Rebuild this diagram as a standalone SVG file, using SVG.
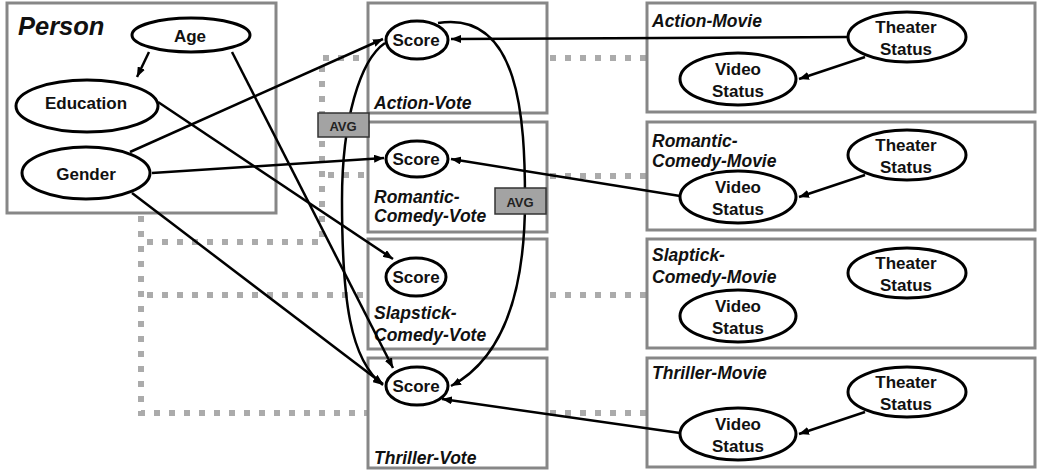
<svg xmlns="http://www.w3.org/2000/svg" width="1038" height="472" viewBox="0 0 1038 472">
<defs>
<marker id="ah" viewBox="0 0 10 8" refX="10" refY="4" markerWidth="10" markerHeight="8" markerUnits="userSpaceOnUse" orient="auto">
<path d="M0,0 L10,4 L0,8 z" fill="#000"/>
</marker>
<style>
.box{fill:#fff;stroke:#878787;stroke-width:3}
.ell{fill:#fff;stroke:#000;stroke-width:3}
.lbl{font-family:"Liberation Sans",Arial,sans-serif;font-weight:bold;font-size:17px;fill:#111;text-anchor:middle}
.title{font-family:"Liberation Sans",Arial,sans-serif;font-weight:bold;font-style:italic;font-size:17.5px;fill:#111}
.dot{fill:none;stroke:#ababab;stroke-width:6;stroke-dasharray:6 9}
.edge{fill:none;stroke:#000;stroke-width:2.5;marker-end:url(#ah)}
.curve{fill:none;stroke:#000;stroke-width:2.5}
.avg{fill:#a3a3a3;stroke:#333;stroke-width:1.5}
.avgt{font-family:"Liberation Sans",Arial,sans-serif;font-weight:bold;font-size:13px;fill:#222;text-anchor:middle}
</style>
</defs>
<rect width="1038" height="472" fill="#fff"/>

<g id="dotted">
<path class="dot" d="M141,216 V413 H368"/>
<path class="dot" d="M147,242 H322 V58 H368"/>
<path class="dot" d="M328,175 H368"/>
<path class="dot" d="M147,295 H368"/>
<path class="dot" d="M550,58 H647"/>
<path class="dot" d="M550,176 H647"/>
<path class="dot" d="M550,295 H647"/>
<path class="dot" d="M550,413 H647"/>
</g>

<g id="person">
<rect class="box" x="7" y="3" width="269" height="210"/>
<text x="18" y="35" class="title" style="font-size:25.5px">Person</text>
</g>
<g id="vote-action"><rect class="box" x="368" y="3" width="179" height="110"/><text x="374" y="109" class="title">Action-Vote</text></g>
<g id="vote-romantic"><rect class="box" x="368" y="122" width="179" height="110"/><text x="374" y="203" class="title">Romantic-</text><text x="374" y="222" class="title">Comedy-Vote</text></g>
<g id="vote-slapstick"><rect class="box" x="368" y="239" width="179" height="110"/><text x="374" y="319" class="title">Slapstick-</text><text x="374" y="341" class="title">Comedy-Vote</text></g>
<g id="vote-thriller"><rect class="box" x="368" y="358" width="179" height="110"/><text x="374" y="464" class="title">Thriller-Vote</text></g>

<g id="movie-action"><rect class="box" x="647" y="3" width="388" height="109"/><text x="652" y="27" class="title">Action-Movie</text></g>
<g id="movie-romantic"><rect class="box" x="647" y="122" width="388" height="108"/><text x="652" y="147" class="title">Romantic-</text><text x="652" y="167" class="title">Comedy-Movie</text></g>
<g id="movie-slapstick"><rect class="box" x="647" y="239" width="388" height="109"/><text x="652" y="261" class="title">Slaptick-</text><text x="652" y="283" class="title">Comedy-Movie</text></g>
<g id="movie-thriller"><rect class="box" x="647" y="358" width="388" height="109"/><text x="652" y="379" class="title">Thriller-Movie</text></g>

<g id="connectors">
<path class="edge" d="M149,52 L137,77"/>
<path class="edge" d="M130,152 L383,39"/>
<path class="edge" d="M152,173 L384,158"/>
<path class="edge" d="M132,193 L383,384"/>
<path class="edge" d="M232,52 L393,368"/>
<path class="edge" d="M158,102 L393,259"/>
<path class="edge" d="M848,37 L451,39"/>
<path class="edge" d="M865,57 L799,79"/>
<path class="edge" d="M680,196 L451,159"/>
<path class="edge" d="M865,175 L799,197"/>
<path class="edge" d="M680,433 L442,399"/>
<path class="edge" d="M865,412 L799,434"/>
<path class="edge" d="M385,43 C360,60 342,120 342,200 C342,300 350,360 383,385"/>
<path class="edge" d="M438,23 C520,10 525,120 525,200 C525,300 500,360 451,386"/>
</g>

<g id="avg1"><rect class="avg" x="318" y="113" width="51" height="24"/><text x="343" y="131" class="avgt">AVG</text></g>
<g id="avg2"><rect class="avg" x="495" y="188" width="51" height="26"/><text x="520" y="207" class="avgt">AVG</text></g>

<g id="age"><ellipse class="ell" cx="191" cy="35" rx="59" ry="17"/><text x="190" y="42" class="lbl">Age</text></g>
<g id="education"><ellipse class="ell" cx="87" cy="106" rx="71" ry="26"/><text x="86" y="109" class="lbl">Education</text></g>
<g id="gender"><ellipse class="ell" cx="86" cy="173" rx="64" ry="26"/><text x="86" y="180" class="lbl">Gender</text></g>

<g id="score-action"><ellipse class="ell" cx="417" cy="40" rx="31" ry="19"/><text x="416" y="46" class="lbl">Score</text></g>
<g id="score-romantic"><ellipse class="ell" cx="417" cy="159" rx="31" ry="18"/><text x="416" y="165" class="lbl">Score</text></g>
<g id="score-slapstick"><ellipse class="ell" cx="416" cy="277" rx="30" ry="19"/><text x="416" y="283" class="lbl">Score</text></g>
<g id="score-thriller"><ellipse class="ell" cx="417" cy="386" rx="31" ry="19"/><text x="416" y="392" class="lbl">Score</text></g>

<g id="theater-action"><ellipse class="ell" cx="907" cy="37" rx="59" ry="25"/><text x="906" y="33" class="lbl">Theater</text><text x="906" y="55" class="lbl">Status</text></g>
<g id="video-action"><ellipse class="ell" cx="738" cy="79" rx="58" ry="26"/><text x="738" y="75" class="lbl">Video</text><text x="738" y="97" class="lbl">Status</text></g>
<g id="theater-romantic"><ellipse class="ell" cx="907" cy="155" rx="59" ry="25"/><text x="906" y="151" class="lbl">Theater</text><text x="906" y="173" class="lbl">Status</text></g>
<g id="video-romantic"><ellipse class="ell" cx="738" cy="197" rx="58" ry="26"/><text x="738" y="193" class="lbl">Video</text><text x="738" y="215" class="lbl">Status</text></g>
<g id="theater-slapstick"><ellipse class="ell" cx="907" cy="273" rx="59" ry="25"/><text x="906" y="269" class="lbl">Theater</text><text x="906" y="291" class="lbl">Status</text></g>
<g id="video-slapstick"><ellipse class="ell" cx="738" cy="316" rx="58" ry="26"/><text x="738" y="312" class="lbl">Video</text><text x="738" y="334" class="lbl">Status</text></g>
<g id="theater-thriller"><ellipse class="ell" cx="907" cy="392" rx="59" ry="25"/><text x="906" y="388" class="lbl">Theater</text><text x="906" y="410" class="lbl">Status</text></g>
<g id="video-thriller"><ellipse class="ell" cx="738" cy="434" rx="58" ry="26"/><text x="738" y="430" class="lbl">Video</text><text x="738" y="452" class="lbl">Status</text></g>
</svg>
